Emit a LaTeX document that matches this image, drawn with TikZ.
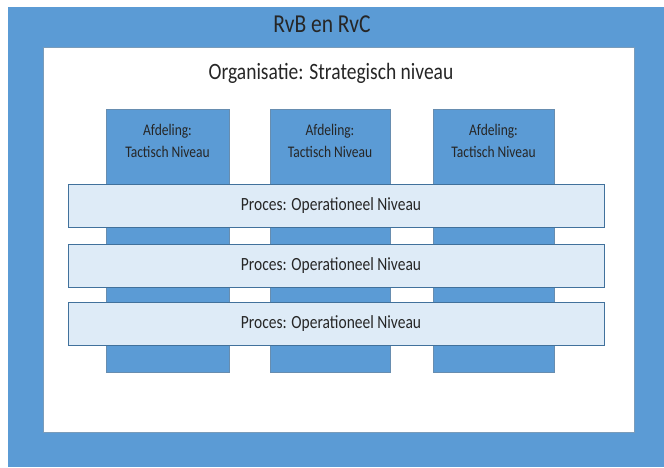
\documentclass[tikz,border=0pt]{standalone}
\usepackage{fontspec}
\usepackage{graphicx}
\setmainfont{Carlito}
\definecolor{officeblue}{HTML}{5B9BD5}
\definecolor{edgeblue}{HTML}{41719C}
\definecolor{paleblue}{HTML}{DEEBF7}
\definecolor{inktext}{HTML}{262626}
% taller, slightly condensed lettering
\newcommand{\tallset}[1]{\scalebox{1}[1.2]{\begin{tabular}{@{}c@{}}#1\end{tabular}}}
\begin{document}
\begin{tikzpicture}[x=1pt,y=-1pt,
  frame/.style={fill=officeblue, draw=none},
  innerbox/.style={fill=white, draw=edgeblue!70, line width=0.6pt},
  dept/.style={fill=officeblue, draw=edgeblue!80, line width=0.6pt},
  procbar/.style={fill=paleblue, draw=edgeblue, line width=0.8pt},
  lbl/.style={text=inktext, inner sep=0pt, align=center}]
  \useasboundingbox (0,0) rectangle (664,467);
  % outer board frame
  \path[frame] (8,7) rectangle (664,467);
  \node[lbl, font=\fontsize{21.5}{24}\selectfont] (rvb) at (322,27) {\tallset{RvB en RvC}};
  % organisation area
  \draw[innerbox] (43,47) rectangle (634,432);
  \node[lbl, font=\fontsize{19.5}{22}\selectfont] (org) at (331,74) {\tallset{Organisatie: Strategisch niveau}};
  % departments
  \draw[dept] (106,109) rectangle (229,372);
  \draw[dept] (270,109) rectangle (390,372);
  \draw[dept] (433,109) rectangle (554,372);
  \node[lbl, font=\fontsize{13.5}{19}\selectfont] (d1) at (167.5,142) {\tallset{Afdeling:\\Tactisch Niveau}};
  \node[lbl, font=\fontsize{13.5}{19}\selectfont] (d2) at (330,142) {\tallset{Afdeling:\\Tactisch Niveau}};
  \node[lbl, font=\fontsize{13.5}{19}\selectfont] (d3) at (493.5,142) {\tallset{Afdeling:\\Tactisch Niveau}};
  % processes across departments
  \draw[procbar] (68,184) rectangle (604,227);
  \draw[procbar] (68,244) rectangle (604,287);
  \draw[procbar] (68,302) rectangle (604,345);
  \node[lbl, font=\fontsize{15.5}{18}\selectfont] (p1) at (331,206) {\tallset{Proces: Operationeel Niveau}};
  \node[lbl, font=\fontsize{15.5}{18}\selectfont] (p2) at (331,266) {\tallset{Proces: Operationeel Niveau}};
  \node[lbl, font=\fontsize{15.5}{18}\selectfont] (p3) at (331,324) {\tallset{Proces: Operationeel Niveau}};
\end{tikzpicture}
\end{document}
